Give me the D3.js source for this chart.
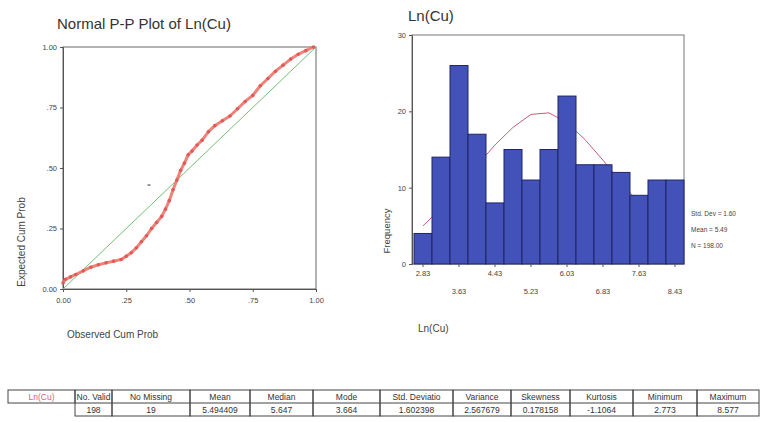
<!DOCTYPE html>
<html>
<head>
<meta charset="utf-8">
<script src="https://cdn.jsdelivr.net/npm/d3@7"></script>
<style>
  body { margin: 0; background: #fff; }
  svg { font-family: "Liberation Sans", Arial, sans-serif; }
</style>
</head>
<body>
<svg width="763" height="422"></svg>
<script>
// P-P plot: observed / expected cumulative probability
var ppObserved = [0.000, 0.010, 0.030, 0.050, 0.080, 0.110, 0.140, 0.170, 0.200, 0.230, 0.250, 0.270,
                  0.290, 0.310, 0.330, 0.350, 0.370, 0.390, 0.405, 0.420, 0.435, 0.450, 0.465, 0.480,
                  0.495, 0.510, 0.530, 0.550, 0.575, 0.600, 0.630, 0.660, 0.690, 0.720, 0.750, 0.780,
                  0.810, 0.840, 0.870, 0.900, 0.930, 0.960, 0.990];
var ppExpected = [0.025, 0.040, 0.050, 0.060, 0.075, 0.090, 0.100, 0.108, 0.115, 0.122, 0.135, 0.150,
                  0.170, 0.195, 0.220, 0.250, 0.275, 0.300, 0.330, 0.365, 0.410, 0.450, 0.490, 0.520,
                  0.555, 0.570, 0.595, 0.615, 0.650, 0.675, 0.695, 0.715, 0.745, 0.775, 0.800, 0.840,
                  0.870, 0.900, 0.925, 0.950, 0.970, 0.985, 1.000];
var ppOutlier = [0.34, 0.43];
var ppTicks = [0, 0.25, 0.5, 0.75, 1];
var ppTickLabels = ["0.00", ".25", ".50", ".75", "1.00"];

// histogram of Ln(Cu)
var binMids = [2.83, 3.23, 3.63, 4.03, 4.43, 4.83, 5.23, 5.63, 6.03, 6.43, 6.83, 7.23, 7.63, 8.03, 8.43];
var freqs = [4, 14, 26, 17, 8, 15, 11, 15, 22, 13, 13, 12, 9, 11, 11];
var curveVals = [5.0, 7.3, 10.0, 12.9, 15.6, 17.9, 19.6, 19.8, 18.5, 16.3, 13.6, 10.7, 8.0, 5.6, 3.7];
var histLabels = ["2.83", "3.63", "4.43", "5.23", "6.03", "6.83", "7.63", "8.43"];
var freqTicks = [0, 10, 20, 30];
var statLines = ["Std. Dev = 1.60", "Mean = 5.49", "N = 198.00"];

// table
var tableHeaders = ["No. Valid", "No Missing", "Mean", "Median", "Mode", "Std. Deviatio", "Variance",
                    "Skewness", "Kurtosis", "Minimum", "Maximum"];
var tableValues = ["198", "19", "5.494409", "5.647", "3.664", "1.602398", "2.567679", "0.178158",
                   "-1.1064", "2.773", "8.577"];
var colEdges = [75, 112, 190, 250, 313, 380, 453, 511, 570, 633, 697, 759];

var svg = d3.select("svg");

//---------------- P-P plot ----------------
var px = d3.scaleLinear().domain([0, 1]).range([63, 316]);
var py = d3.scaleLinear().domain([0, 1]).range([289, 47]);

svg.append("text").attr("x", 57).attr("y", 29)
    .attr("font-size", 15).attr("fill", "#333").text("Normal P-P Plot of Ln(Cu)");

// frame
svg.append("rect").attr("x", px(0)).attr("y", py(1))
    .attr("width", px(1) - px(0)).attr("height", py(0) - py(1))
    .attr("fill", "none").attr("stroke", "#666").attr("stroke-width", 1);

var ppX = svg.append("g").attr("transform", "translate(0," + py(0) + ")")
    .call(d3.axisBottom(px).tickValues(ppTicks).tickSize(3)
        .tickFormat(function(d, i) { return ppTickLabels[i]; }));
var ppY = svg.append("g").attr("transform", "translate(" + px(0) + ",0)")
    .call(d3.axisLeft(py).tickValues(ppTicks).tickSize(3)
        .tickFormat(function(d, i) { return ppTickLabels[i]; }));
[ppX, ppY].forEach(function(g) {
  g.select(".domain").attr("stroke", "#555");
  g.selectAll(".tick line").attr("stroke", "#555");
  g.selectAll(".tick text").attr("font-size", 7.5).attr("fill", "#444")
      .attr("font-family", "Liberation Sans, Arial, sans-serif");
});
ppX.selectAll(".tick text").attr("dy", "1.1em");

// diagonal reference line
svg.append("line")
    .attr("x1", px(0)).attr("y1", py(0)).attr("x2", px(1)).attr("y2", py(1))
    .attr("stroke", "#72c071").attr("stroke-width", 1);

var ppData = ppObserved.map(function(d, i) { return [d, ppExpected[i]]; });

// dense points rendered as a thick band of dots
svg.append("path").datum(ppData)
    .attr("fill", "none").attr("stroke", "#ec6d63").attr("stroke-width", 3)
    .attr("stroke-opacity", 0.85).attr("stroke-linejoin", "round")
    .attr("d", d3.line().x(function(d) { return px(d[0]); }).y(function(d) { return py(d[1]); }));
svg.append("g").selectAll("circle").data(ppData).enter().append("circle")
    .attr("cx", function(d) { return px(d[0]); })
    .attr("cy", function(d) { return py(d[1]); })
    .attr("r", 1.8).attr("fill", "#e25a55");
svg.append("rect").attr("x", px(ppOutlier[0]) - 1.5).attr("y", py(ppOutlier[1]) - 0.5)
    .attr("width", 3).attr("height", 1.2).attr("fill", "#555");

svg.append("text").attr("x", 67).attr("y", 338)
    .attr("font-size", 10).attr("fill", "#444").text("Observed Cum Prob");
svg.append("text").attr("transform", "translate(25,242) rotate(-90)")
    .attr("text-anchor", "middle").attr("font-size", 10).attr("fill", "#444")
    .text("Expected Cum Prob");

//---------------- histogram ----------------
var binW = 0.4;
var hx = d3.scaleLinear().domain([binMids[0] - binW / 2, binMids[binMids.length - 1] + binW / 2])
    .range([414, 684]);
var hy = d3.scaleLinear().domain([0, 30]).range([264, 35]);

svg.append("text").attr("x", 408).attr("y", 21)
    .attr("font-size", 15).attr("fill", "#333").text("Ln(Cu)");

svg.append("rect").attr("x", 412).attr("y", hy(30))
    .attr("width", hx.range()[1] - 412).attr("height", hy(0) - hy(30))
    .attr("fill", "none").attr("stroke", "#777").attr("stroke-width", 1);

// normal curve (behind bars)
svg.append("path").datum(binMids)
    .attr("fill", "none").attr("stroke", "#cc5a78").attr("stroke-width", 1)
    .attr("d", d3.line()
        .x(function(d) { return hx(d); })
        .y(function(d, i) { return hy(curveVals[i]); }));

svg.append("g").selectAll("rect").data(freqs).enter().append("rect")
    .attr("x", function(d, i) { return hx(binMids[i] - binW / 2); })
    .attr("y", function(d) { return hy(d); })
    .attr("width", hx(binW) - hx(0))
    .attr("height", function(d) { return hy(0) - hy(d); })
    .attr("fill", "#4352b8").attr("stroke", "#1f2566").attr("stroke-width", 1);

var hY = svg.append("g").attr("transform", "translate(412,0)")
    .call(d3.axisLeft(hy).tickValues(freqTicks).tickSize(3));
hY.select(".domain").attr("stroke", "#555");
hY.selectAll(".tick line").attr("stroke", "#555");
hY.selectAll(".tick text").attr("font-size", 7.5).attr("fill", "#444");

// x labels in two staggered rows
var hLab = svg.append("g").attr("font-size", 7.5).attr("fill", "#444").attr("text-anchor", "middle");
hLab.selectAll("text").data(histLabels).enter().append("text")
    .attr("x", function(d) { return hx(+d); })
    .attr("y", function(d, i) { return i % 2 === 0 ? 276 : 294; })
    .text(function(d) { return d; });
hLab.selectAll("line").data(histLabels).enter().append("line")
    .attr("x1", function(d) { return hx(+d); }).attr("x2", function(d) { return hx(+d); })
    .attr("y1", hy(0)).attr("y2", hy(0) + 3).attr("stroke", "#555");

svg.append("g").attr("font-size", 6.5).attr("fill", "#444")
    .selectAll("text").data(statLines).enter().append("text")
    .attr("x", 691).attr("y", function(d, i) { return 216 + i * 16; })
    .text(function(d) { return d; });

svg.append("text").attr("x", 418).attr("y", 332)
    .attr("font-size", 10).attr("fill", "#444").text("Ln(Cu)");
svg.append("text").attr("transform", "translate(390,231) rotate(-90)")
    .attr("text-anchor", "middle").attr("font-size", 9.5).attr("fill", "#444")
    .text("Frequency");

//---------------- statistics table ----------------
var rowTop = 390, rowMid = 403, rowBot = 416;
var tbl = svg.append("g").attr("font-size", 8.5).attr("text-anchor", "middle");

tbl.append("rect").attr("x", 8).attr("y", rowTop).attr("width", colEdges[0] - 8)
    .attr("height", rowMid - rowTop).attr("fill", "#fff").attr("stroke", "#444");
tbl.append("text").attr("x", (8 + colEdges[0]) / 2).attr("y", rowMid - 3)
    .attr("fill", "#d8627a").text("Ln(Cu)");

tbl.selectAll("rect.h").data(tableHeaders).enter().append("rect")
    .attr("x", function(d, i) { return colEdges[i]; })
    .attr("y", rowTop)
    .attr("width", function(d, i) { return colEdges[i + 1] - colEdges[i]; })
    .attr("height", rowBot - rowTop)
    .attr("fill", "none").attr("stroke", "#444");
tbl.append("line").attr("x1", colEdges[0]).attr("x2", colEdges[colEdges.length - 1])
    .attr("y1", rowMid).attr("y2", rowMid).attr("stroke", "#444");

tbl.selectAll("text.h").data(tableHeaders).enter().append("text")
    .attr("x", function(d, i) { return (colEdges[i] + colEdges[i + 1]) / 2; })
    .attr("y", rowMid - 3).attr("fill", "#333")
    .text(function(d) { return d; });
tbl.selectAll("text.v").data(tableValues).enter().append("text")
    .attr("x", function(d, i) { return (colEdges[i] + colEdges[i + 1]) / 2; })
    .attr("y", rowBot - 3).attr("fill", "#333")
    .text(function(d) { return d; });
</script>
</body>
</html>
